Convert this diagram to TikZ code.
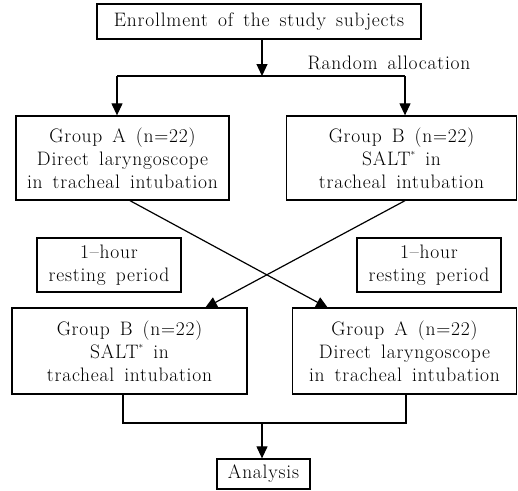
\documentclass[tikz,border=0pt]{standalone}
\usepackage{fontspec}
\usetikzlibrary{arrows.meta}
\newfontfamily\boxfont[LetterSpace=4,WordSpace=1.5]{Latin Modern Roman}
\begin{document}
\begin{tikzpicture}[x=1pt,y=-1pt,
  box/.style={draw,line width=1.3pt,inner sep=0pt,align=center,font=\boxfont\fontsize{19.5}{23}\selectfont},
  conn/.style={line width=1.2pt},
  arr/.style={conn,-{Triangle[length=12pt,width=11pt]}}]
\useasboundingbox (0,0) rectangle (518,490);
\newcommand{\saltast}{SALT\raisebox{0.5em}{\fontsize{9}{9}\selectfont$\ast$}}
\node[box,minimum width=324pt,minimum height=35pt] (top) at (259,21.5) {Enrollment of the study subjects};
\node[box,minimum width=213pt,minimum height=84pt] (A1) at (122.5,158) {Group A (n=22)\\Direct laryngoscope\\in tracheal intubation};
\node[box,minimum width=230pt,minimum height=84pt] (B1) at (401.5,158) {Group B (n=22)\\\saltast{} in\\tracheal intubation};
\node[box,minimum width=144pt,minimum height=54pt] (RL) at (109,265) {1\textendash hour\\resting period};
\node[box,minimum width=144pt,minimum height=54pt] (RR) at (429,265) {1\textendash hour\\resting period};
\node[box,minimum width=235pt,minimum height=86pt] (B2) at (129.5,351) {Group B (n=22)\\\saltast{} in\\tracheal intubation};
\node[box,minimum width=224pt,minimum height=86pt] (A2) at (404.5,351) {Group A (n=22)\\Direct laryngoscope\\in tracheal intubation};
\node[box,minimum width=93pt,minimum height=30pt] (AN) at (263.5,474) {Analysis};
\node[font=\boxfont\fontsize{19.5}{23}\selectfont] (RA) at (389,63) {Random allocation};
\coordinate (split) at (262,76);
\coordinate (sL) at (117,76);
\coordinate (sR) at (405,76);
\coordinate (jL) at (123,423);
\coordinate (jR) at (406,423);
\coordinate (jM) at (262,423);
\draw[arr] (top.south -| split) -- (split);
\draw[conn] (sL) -- (sR);
\draw[arr] (sL) -- (sL |- A1.north);
\draw[arr] (sR) -- (sR |- B1.north);
\draw[arr] (A1.south -| 130,0) -- (328,308) coordinate (tA);
\draw[arr] (B1.south -| 405,0) -- (205,308) coordinate (tB);
\draw[conn] (B2.south -| jL) -- (jL) -- (jR) -- (A2.south -| jR);
\draw[arr] (jM) -- (AN.north -| jM);
\end{tikzpicture}
\end{document}
